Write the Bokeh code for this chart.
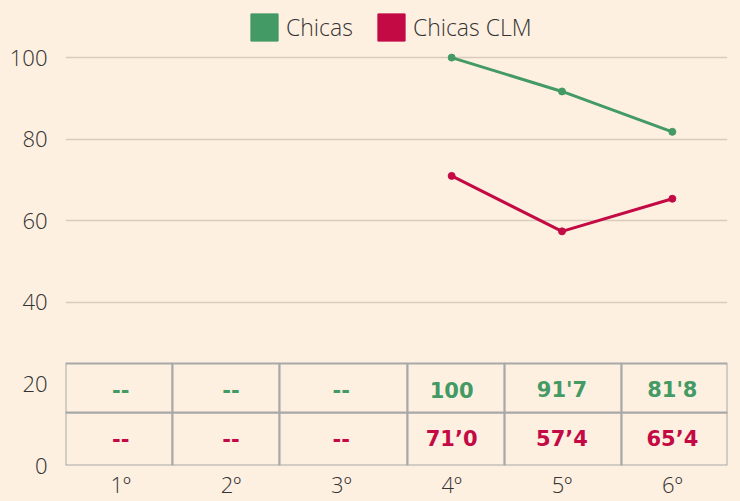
import math
from bokeh.plotting import figure
from bokeh.models import (Range1d, FixedTicker, Legend, LegendItem,
                          GlobalInlineStyleSheet, ColumnDataSource)
from bokeh.core.properties import value
from bokeh.embed import file_html
from bokeh.resources import INLINE

# ---- data ----
categories = ["1º", "2º", "3º", "4º", "5º", "6º"]
chicas = [math.nan, math.nan, math.nan, 100, 91.7, 81.8]
chicas_clm = [math.nan, math.nan, math.nan, 71.0, 57.4, 65.4]
chicas_table = ["--", "--", "--", "100", "91'7", "81'8"]
chicas_clm_table = ["--", "--", "--", "71’0", "57’4", "65’4"]
y_ticks = [0, 20, 40, 60, 80, 100]

# ---- style ----
BG = "#FEF0E1"
GREEN = "#449A64"
RED = "#C30A45"
GRID = "#D9CBBD"
BORDER = "#A8A8A8"
TXT = "#333333"
FONT = "Open Sans Light"
BOLD = "DejaVu Sans"

xs = list(range(1, len(categories) + 1))
table_edges = [0.5, 1.47, 2.44, 3.6, 4.48, 5.54, 6.5]
row_edges = [0, 13, 25]

p = figure(width=740, height=501, output_backend="svg", toolbar_location=None,
           x_range=Range1d(0.5, 6.5), y_range=Range1d(0, 114),
           min_border_left=65, min_border_right=13, min_border_top=0,
           min_border_bottom=35)
p.stylesheets = [GlobalInlineStyleSheet(css=f"html,body{{margin:0;padding:0;background:{BG};overflow:hidden;}}")]
p.background_fill_color = BG
p.border_fill_color = BG
p.outline_line_color = None

p.xgrid.grid_line_color = None
p.ygrid.ticker = FixedTicker(ticks=[t for t in y_ticks if t >= 40])
p.ygrid.grid_line_color = GRID
p.ygrid.grid_line_width = 1.5

for ax in (p.xaxis, p.yaxis):
    ax.axis_line_color = None
    ax.major_tick_line_color = None
    ax.minor_tick_line_color = None
    ax.major_tick_out = 0
    ax.major_tick_in = 0
    ax.minor_tick_out = 0
    ax.major_label_text_font = FONT
    ax.major_label_text_font_size = "22px"
    ax.major_label_text_color = TXT

p.yaxis.ticker = FixedTicker(ticks=y_ticks)
p.yaxis.major_label_standoff = 18

p.xaxis.ticker = FixedTicker(ticks=xs)
p.xaxis.major_label_overrides = {x: c for x, c in zip(xs, categories)}
p.xaxis.major_label_standoff = 3

# ---- table ----
left, right, bottom, top = [], [], [], []
for r in range(len(row_edges) - 1):
    for c in range(len(table_edges) - 1):
        left.append(table_edges[c]); right.append(table_edges[c + 1])
        bottom.append(row_edges[r]); top.append(row_edges[r + 1])
p.quad(left=left, right=right, bottom=bottom, top=top,
       fill_color=BG, line_color=BORDER, line_width=2)

p.text(x=xs, y=[18.6] * len(xs), text=chicas_table, text_align="center",
       text_baseline="middle", text_font=value(BOLD), text_font_style="bold",
       text_font_size="21px", text_color=GREEN)
p.text(x=xs, y=[6.4] * len(xs), text=chicas_clm_table, text_align="center",
       text_baseline="middle", text_font=value(BOLD), text_font_style="bold",
       text_font_size="21px", text_color=RED)

# ---- lines ----
src = ColumnDataSource(dict(x=xs, a=chicas, b=chicas_clm))
p.line("x", "a", source=src, line_color=GREEN, line_width=3)
p.scatter("x", "a", source=src, size=7, fill_color=GREEN, line_color=GREEN)
p.line("x", "b", source=src, line_color=RED, line_width=3)
p.scatter("x", "b", source=src, size=7, fill_color=RED, line_color=RED)

# ---- legend ----
lg1 = p.rect(x=[math.nan], y=[math.nan], width=1, height=1, fill_color=GREEN, line_color=GREEN)
lg2 = p.rect(x=[math.nan], y=[math.nan], width=1, height=1, fill_color=RED, line_color=RED)
legend = Legend(items=[LegendItem(label="Chicas", renderers=[lg1]),
                       LegendItem(label="Chicas CLM", renderers=[lg2])],
                orientation="horizontal", location=(182, 421),
                glyph_width=34, glyph_height=34, label_standoff=5, spacing=21,
                padding=0, margin=0, border_line_color=None,
                background_fill_alpha=0, label_text_font=FONT,
                label_text_font_size="23px", label_text_color=TXT)
p.add_layout(legend, "center")

open("out.html", "w").write(file_html(p, INLINE))
